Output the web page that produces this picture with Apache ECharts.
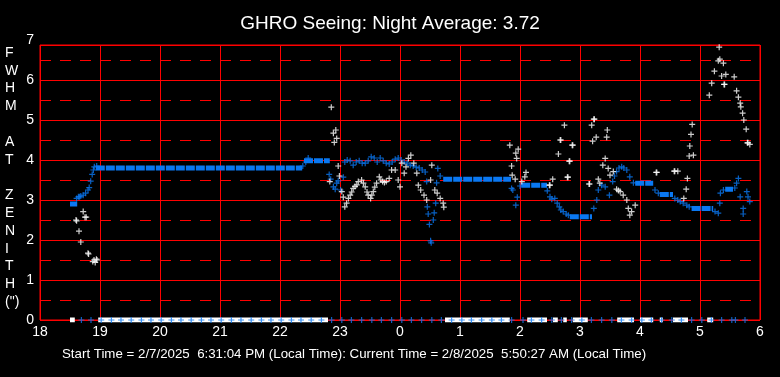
<!DOCTYPE html>
<html>
<head>
<meta charset="utf-8">
<script src="https://cdn.jsdelivr.net/npm/echarts@6/dist/echarts.min.js"></script>
<style>
  html, body { margin: 0; padding: 0; background: #000; }
  #chart { width: 780px; height: 377px; }
</style>
</head>
<body>
<div id="chart"></div>
<script>
// hours after 18:00 continue past 24 (24 = 0h next day)
const titleText = 'GHRO Seeing: Night Average: 3.72';
const footerText = 'Start Time = 2/7/2025  6:31:04 PM (Local Time): Current Time = 2/8/2025  5:50:27 AM (Local Time)';
const yLetters = ['F', 'W', 'H', 'M', '', 'A', 'T', '', 'Z', 'E', 'N', 'I', 'T', 'H', '(")'];

// raw seeing samples (white)
const whitePts = [
  [18.60, 2.50], [18.61, 2.48], [18.65, 2.22], [18.68, 1.95], [18.72, 2.71], [18.75, 2.57], [18.77, 2.57],
  [18.80, 1.67], [18.81, 1.65], [18.88, 1.46], [18.90, 1.50], [18.92, 1.44], [18.94, 1.52], [18.95, 1.50],
  [22.83, 3.46], [22.855, 5.32], [22.89, 4.67], [22.905, 4.44], [22.93, 4.75], [22.945, 4.54], [22.97, 3.85],
  [22.99, 3.60], [23.03, 3.21], [23.055, 3.07], [23.08, 2.83], [23.11, 2.92], [23.14, 3.04], [23.17, 3.12],
  [23.195, 3.20], [23.22, 3.29], [23.25, 3.34], [23.28, 3.38], [23.305, 3.46], [23.36, 3.50], [23.39, 3.42],
  [23.42, 3.33], [23.45, 3.20], [23.47, 3.12], [23.51, 3.04], [23.53, 3.12], [23.555, 3.21], [23.58, 3.32],
  [23.61, 3.42], [23.655, 3.58], [23.68, 3.50], [23.71, 3.46], [23.74, 3.44], [23.77, 3.46], [23.82, 3.54],
  [23.86, 3.75], [23.92, 3.75], [23.97, 3.50], [24.00, 3.33], [24.03, 3.92], [24.07, 3.67], [24.10, 3.83],
  [24.14, 4.04], [24.18, 4.12], [24.23, 3.92], [24.28, 3.67], [24.305, 3.37], [24.345, 3.25], [24.40, 3.12],
  [24.445, 3.00], [24.51, 3.50], [24.53, 3.87], [24.58, 3.25], [24.62, 3.17], [24.67, 3.04], [24.72, 2.92],
  [24.73, 2.82],
  [25.83, 4.37], [25.86, 3.85], [25.87, 3.62], [25.92, 3.52], [25.93, 4.17], [25.945, 4.04], [25.97, 4.27],
  [26.03, 3.46], [26.08, 3.58], [26.10, 3.69],
  [26.49, 3.37], [26.50, 3.37], [26.545, 3.52], [26.64, 4.15], [26.67, 4.50], [26.68, 4.50], [26.74, 4.87],
  [26.79, 3.57], [26.80, 3.57], [26.82, 3.97], [26.83, 3.97], [26.87, 4.37], [26.88, 4.37], [27.15, 3.40],
  [27.16, 3.40], [27.195, 4.87], [27.21, 4.47], [27.23, 5.02], [27.24, 5.02], [27.27, 4.57], [27.305, 3.52],
  [27.33, 3.42], [27.38, 3.87], [27.42, 4.04], [27.445, 4.57], [27.455, 4.75], [27.47, 3.79], [27.50, 3.62],
  [27.555, 3.71], [27.61, 3.27], [27.64, 3.24], [27.67, 3.21], [27.72, 3.12], [27.78, 3.00], [27.805, 2.79],
  [27.83, 2.62], [27.86, 2.71], [27.92, 2.87],
  [28.27, 3.69], [28.28, 3.69], [28.57, 3.72], [28.58, 3.72], [28.63, 3.72], [28.73, 3.04], [28.77, 3.27],
  [28.79, 3.54], [28.82, 4.10], [28.83, 4.35], [28.85, 4.64], [28.87, 4.89], [28.89, 4.12],
  [29.155, 5.62], [29.195, 5.92], [29.24, 6.22], [29.28, 6.94], [29.305, 6.48], [29.32, 6.82], [29.33, 6.52],
  [29.36, 6.10], [29.39, 6.42], [29.40, 5.89], [29.41, 5.89], [29.43, 6.14], [29.57, 6.08], [29.61, 5.73],
  [29.64, 5.57], [29.67, 5.42], [29.68, 5.33], [29.71, 5.17], [29.73, 5.00], [29.77, 4.77], [29.79, 4.43],
  [29.80, 4.43], [29.83, 4.39]
];

// averaged seeing samples (blue), scattered part
const bluePts = [
  [18.61, 3.04], [18.64, 3.08], [18.66, 3.08], [18.68, 3.10], [18.72, 3.12], [18.76, 3.17], [18.80, 3.25],
  [18.82, 3.31], [18.845, 3.47], [18.87, 3.64], [18.89, 3.75], [18.905, 3.83], [18.945, 3.85],
  [22.38, 3.85], [22.43, 3.95], [22.47, 4.05],
  [22.82, 3.64], [22.845, 3.52], [22.89, 3.33], [22.92, 3.27], [22.945, 3.42], [22.97, 3.48], [23.01, 3.25],
  [23.055, 3.57], [23.08, 3.95], [23.12, 4.00], [23.17, 3.98], [23.22, 3.87], [23.27, 3.95], [23.32, 3.98],
  [23.37, 3.92], [23.42, 3.92], [23.47, 3.98], [23.52, 4.08], [23.57, 4.05], [23.62, 3.95], [23.67, 4.05],
  [23.72, 3.98], [23.77, 3.92], [23.82, 3.90], [23.87, 3.95], [23.92, 4.02], [23.97, 4.05], [24.02, 4.00],
  [24.07, 3.95], [24.12, 3.92], [24.17, 3.87], [24.22, 3.85], [24.27, 3.82], [24.32, 3.80], [24.37, 3.75],
  [24.42, 3.70], [24.445, 3.46], [24.455, 2.83], [24.47, 2.65], [24.49, 2.39], [24.51, 1.98], [24.52, 1.93],
  [24.555, 2.50], [24.57, 2.68], [24.595, 2.92], [24.61, 3.43], [24.63, 3.79], [24.67, 3.60],
  [25.86, 3.29], [25.88, 3.25], [25.93, 2.87], [25.955, 3.07], [26.00, 3.35],
  [26.455, 3.23], [26.50, 3.08], [26.53, 3.02], [26.58, 3.04], [26.62, 2.92], [26.655, 2.83], [26.68, 2.75],
  [26.72, 2.71], [26.77, 2.65], [26.805, 2.62],
  [27.23, 2.79], [27.28, 3.00], [27.305, 3.25], [27.36, 3.37], [27.42, 3.33], [27.49, 3.12], [27.545, 3.46],
  [27.575, 3.60], [27.61, 3.71], [27.65, 3.80], [27.695, 3.83], [27.73, 3.80], [27.78, 3.75], [27.83, 3.58],
  [27.89, 3.43],
  [28.25, 3.25], [28.305, 3.17], [28.58, 3.04], [28.63, 3.00], [28.67, 2.96], [28.72, 2.92], [28.78, 2.87],
  [28.82, 2.83], [29.25, 2.71], [29.305, 2.67], [29.33, 2.92], [29.34, 3.17], [29.39, 3.25],
  [29.58, 3.30], [29.61, 3.42], [29.64, 3.54], [29.67, 3.08], [29.72, 2.79], [29.72, 2.65], [29.78, 3.21],
  [29.80, 3.08], [29.83, 2.96]
];

// dense runs of blue samples: [start, end, value]
const blueBands = [
  [18.50, 18.62, 2.90], [18.93, 22.37, 3.80], [22.40, 22.83, 3.98], [24.72, 25.85, 3.52],
  [26.02, 26.45, 3.37], [26.83, 27.20, 2.58], [27.92, 28.22, 3.42], [28.33, 28.55, 3.14],
  [28.86, 29.22, 2.79], [29.42, 29.55, 3.27]
];

// no-data runs drawn on the zero line (white): [start, end]
const whiteZeroSpans = [
  [18.50, 18.58], [18.97, 22.80], [24.75, 25.83], [26.12, 26.45], [26.55, 26.63], [26.72, 26.78],
  [26.88, 27.13], [27.62, 27.90], [28.00, 28.22], [28.33, 28.38], [28.55, 28.80], [29.12, 29.22]
];

// 10 minute markers on the zero line (blue)
const blueZeroTimes = [
  18.69, 18.85, 19.02, 19.19, 19.35, 19.52, 19.69, 19.85, 20.02, 20.19, 20.35, 20.52, 20.69, 20.85,
  21.02, 21.19, 21.35, 21.52, 21.69, 21.85, 22.02, 22.19, 22.35, 22.52, 22.69, 22.86, 23.03, 23.19,
  23.36, 23.53, 23.69, 23.86, 24.03, 24.19, 24.36, 24.53, 24.69, 24.86, 25.03, 25.19, 25.36, 25.53,
  25.69, 25.86, 26.05, 26.19, 26.36, 26.53, 26.69, 26.86, 27.03, 27.19, 27.36, 27.53, 27.69, 27.86,
  28.03, 28.19, 28.36, 28.53, 28.69, 28.86, 29.03, 29.19, 29.36, 29.53, 29.59, 29.75
];

const RED = '#ff0000';
const BLUE = '#0a78f2';
const FONT = '"Liberation Sans", Arial, sans-serif';
const PLUS = 'path://M2,0H3V2H5V3H3V5H2V3H0V2H2Z';
const Y_TOP = 6.875; // plot top edge sits a bit below the "7" label

const chart = echarts.init(document.getElementById('chart'));

const zeroSeries = whiteZeroSpans.map(s => ({
  type: 'line',
  data: [[s[0], 0], [s[1], 0]],
  symbol: 'none',
  silent: true,
  z: 3,
  lineStyle: { color: '#ffffff', width: 5, cap: 'butt' }
}));

const bandSeries = blueBands.map(b => ({
  type: 'line',
  data: [[b[0], b[2]], [b[1], b[2]]],
  symbol: 'none',
  silent: true,
  z: 4,
  lineStyle: { color: BLUE, width: 5, cap: 'butt', type: [9, 1] }
}));

const option = {
  backgroundColor: '#000000',
  animation: false,
  title: {
    text: titleText,
    left: 'center',
    top: 9,
    textStyle: { color: '#ffffff', fontSize: 19, fontWeight: 'normal', fontFamily: FONT }
  },
  grid: {
    left: 40, right: 20, top: 45, bottom: 57,
    show: true,
    borderColor: RED,
    borderWidth: 1
  },
  xAxis: {
    type: 'value',
    min: 18,
    max: 30,
    interval: 1,
    axisLine: { show: false },
    axisTick: { show: false },
    axisLabel: {
      color: '#ffffff',
      fontSize: 14,
      fontFamily: FONT,
      margin: 5,
      formatter: v => String(v % 24)
    },
    splitLine: { show: true, lineStyle: { color: RED, width: 1 } }
  },
  yAxis: [
    {
      type: 'value',
      min: 0,
      max: Y_TOP,
      interval: 1,
      axisLine: { show: false },
      axisTick: { show: false },
      axisLabel: {
        color: '#ffffff',
        fontSize: 14,
        fontFamily: FONT,
        margin: 6,
        formatter: v => (v === Y_TOP ? '{t|7}' : String(v)),
        rich: { t: { color: '#ffffff', fontSize: 14, fontFamily: FONT, padding: [0, 0, 10, 0] } }
      },
      splitLine: { show: true, lineStyle: { color: RED, width: 1 } }
    },
    {
      // half-unit dashed lines: every other split line is transparent
      type: 'value',
      min: 0,
      max: Y_TOP,
      interval: 0.5,
      position: 'left',
      axisLine: { show: false },
      axisTick: { show: false },
      axisLabel: { show: false },
      splitLine: {
        show: true,
        lineStyle: { color: ['rgba(0,0,0,0)', RED], width: 1, type: [11, 9] }
      }
    }
  ],
  graphic: [
    {
      type: 'text',
      left: 5,
      top: 44,
      style: {
        text: yLetters.join('\n'),
        fill: '#ffffff',
        font: '14px ' + FONT,
        lineHeight: 17.8,
        align: 'center',
        width: 14
      }
    },
    {
      type: 'text',
      left: 62,
      top: 348,
      style: { text: footerText, fill: '#ffffff', font: '13.3px ' + FONT }
    }
  ],
  series: [
    ...zeroSeries,
    {
      type: 'scatter',
      data: blueZeroTimes.map(t => [t, 0]),
      symbol: PLUS,
      symbolSize: 6,
      silent: true,
      z: 5,
      itemStyle: { color: BLUE }
    },
    ...bandSeries,
    {
      type: 'scatter',
      data: bluePts,
      symbol: PLUS,
      symbolSize: 6,
      silent: true,
      z: 5,
      itemStyle: { color: BLUE }
    },
    {
      type: 'scatter',
      data: whitePts,
      symbol: PLUS,
      symbolSize: 6,
      silent: true,
      z: 6,
      itemStyle: { color: '#ffffff' }
    }
  ]
};

chart.setOption(option);
</script>
</body>
</html>
